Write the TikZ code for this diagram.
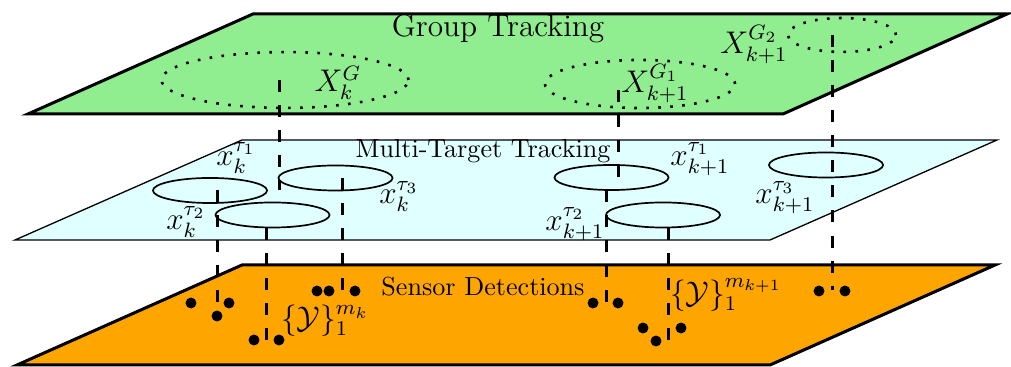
\documentclass[tikz,border=0pt]{standalone}
\usetikzlibrary{shapes.geometric}

\definecolor{grouplayer}{RGB}{144,238,144}
\definecolor{targetlayer}{RGB}{224,255,255}
\definecolor{sensorlayer}{RGB}{255,165,0}

\begin{document}
\begin{tikzpicture}[
    x=0.383pt, y=-0.383pt,
    thickplane/.style={draw, line width=1.15pt, line join=miter},
    thinplane/.style={draw, line width=0.5pt},
    grp/.style={ellipse, draw, inner sep=0pt, line width=1pt, dash pattern=on 1pt off 3.6pt},
    tgt/.style={ellipse, draw, inner sep=0pt, line width=0.65pt, minimum width=43.7pt, minimum height=9.6pt},
    link/.style={line width=1.15pt, dash pattern=on 4.6pt off 5pt},
    det/.style={circle, fill, inner sep=0pt, minimum size=4.2pt},
    lbl/.style={font=\large}
    ]
  \useasboundingbox (0,0) rectangle (1011,367);

  % the three layers
  \draw[thickplane, fill=sensorlayer] (17,365) -- (242,265) -- (995,265) -- (770,365) -- cycle;
  \draw[thinplane, fill=targetlayer] (15,240) -- (242,140) -- (997,140) -- (770,240) -- cycle;
  \draw[thickplane, fill=grouplayer] (28,114) -- (253,14) -- (1007,14) -- (783,114) -- cycle;

  \node[font=\large] (gtitle) at (498,29) {Group Tracking};
  \node (mtitle) at (483,151) {Multi-Target Tracking};
  \node (stitle) at (483,287) {Sensor Detections};

  % groups
  \node[grp, minimum width=94.6pt, minimum height=21.4pt] (gk) at (285,80) {};
  \node[grp, minimum width=72.8pt, minimum height=18.4pt] (gn1) at (640,84) {};
  \node[grp, minimum width=41.4pt, minimum height=13pt] (gn2) at (842,35) {};

  % targets
  \node[tgt] (t1k) at (210,190.5) {};
  \node[tgt] (t2k) at (272.5,215) {};
  \node[tgt] (t3k) at (335.5,178) {};
  \node[tgt] (t1n) at (611.5,177.5) {};
  \node[tgt] (t2n) at (663,215) {};
  \node[tgt] (t3n) at (826,165) {};

  % vertical links
  \foreach \i/\x/\ya/\yb in {1/279/80/190, 2/217/190/303, 3/266/228/340, 4/342/178/290,
      5/618/90/177, 6/606/190/303, 7/668/228/340, 8/832/35/290}{
    \coordinate (up\i) at (\x,\ya);
    \coordinate (dn\i) at (\x,\yb);
    \draw[link] (up\i) -- (dn\i);
  }

  % detections
  \foreach \n/\x/\y in {a1/191/303, a2/229/303, a3/217/316, b1/254/340, b2/279/340,
      c1/317/291, c2/329/291, c3/355/291, e1/593/303, e2/618/303,
      f1/643/328, f2/656/341, f3/681/328, h1/819/291, h2/845/291}
    \node[det] (\n) at (\x,\y) {};

  % labels
  \node[lbl] (lgk) at (338,83) {$X_k^G$};
  \node[lbl] (lgn1) at (655,83.5) {$X_{k+1}^{G_1}$};
  \node[lbl] (lgn2) at (754,44.5) {$X_{k+1}^{G_2}$};
  \node[lbl] (lt1k) at (236,158) {$x_k^{\tau_1}$};
  \node[lbl] (lt2k) at (186,222) {$x_k^{\tau_2}$};
  \node[lbl] (lt3k) at (399,196.5) {$x_k^{\tau_3}$};
  \node[lbl] (lt1n) at (700,159) {$x_{k+1}^{\tau_1}$};
  \node[lbl] (lt2n) at (575,224) {$x_{k+1}^{\tau_2}$};
  \node[lbl] (lt3n) at (785,197.5) {$x_{k+1}^{\tau_3}$};
  \node[lbl] (lzk) at (325,321) {$\{\mathcal{Y}\}_1^{m_k}$};
  \node[lbl] (lzn) at (726,295) {$\{\mathcal{Y}\}_1^{m_{k+1}}$};
\end{tikzpicture}
\end{document}
